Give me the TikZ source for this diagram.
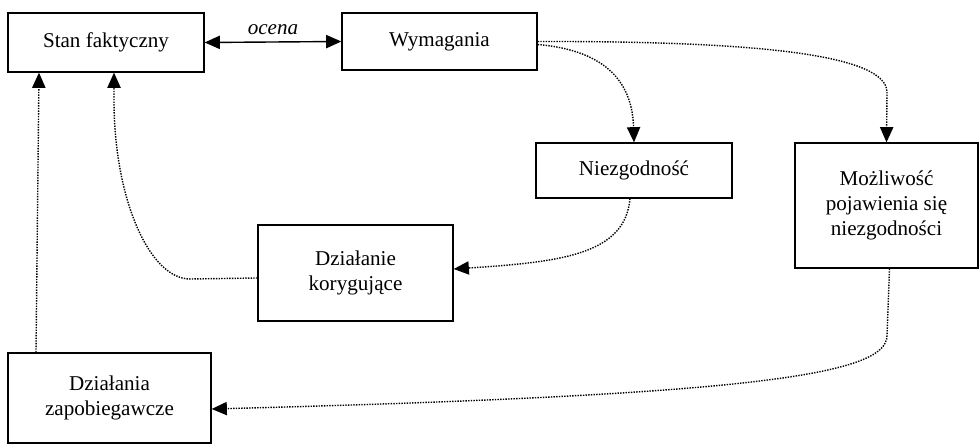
\documentclass[tikz,border=0pt]{standalone}
\usepackage{fontspec}
\setmainfont{Liberation Serif}
\usetikzlibrary{arrows.meta,calc}

\tikzset{
  blok/.style={draw, line width=0.9pt, inner sep=0pt, align=center,
    font=\fontsize{15}{18}\selectfont},
  kropki/.style={dash pattern=on 1pt off 0.9pt, line width=1pt, ->},
  ciagla/.style={line width=1pt, <->}
}

\begin{document}
\begin{tikzpicture}[x=0.025cm, y=-0.025cm, >={Triangle[length=0.38cm,width=0.33cm]}]
	\useasboundingbox (0,0) rectangle (979,444);
	
	\node[blok, minimum width=4.9cm, minimum height=1.475cm] (stan) at (106,42.5) {Stan faktyczny};
	\node[blok, minimum width=4.875cm, minimum height=1.425cm] (wym) at (439.5,41.5) {Wymagania};
	\node[blok, minimum width=4.9cm, minimum height=1.375cm] (niez) at (634,170.5) {Niezgodność};
	\node[blok, minimum width=4.575cm, minimum height=3.125cm] (mozl) at (886.5,205.5) {Możliwość\\pojawienia się\\niezgodności};
	\node[blok, minimum width=4.875cm, minimum height=2.4cm] (dzk) at (355.5,273) {Działanie\\korygujące};
	\node[blok, minimum width=5.075cm, minimum height=2.25cm] (dzz) at (109.5,398) {Działania\\zapobiegawcze};
	
	% ocena
	\draw[ciagla] (stan.east) -- (wym.east -| wym.west) node[midway, above=1pt, font=\fontsize{15}{18}\selectfont\itshape] {ocena};
	
	% z wymagan
	\draw[kropki] ($(wym.east)+(0,3)$) .. controls (590,49) and (632,70) .. (niez.north);
	\draw[kropki] (wym.east) .. controls (760,41) and (887,55) .. ($(mozl.north)+(0.5,-50)$) -- (mozl.north);
	
	% dzialania
	\draw[kropki] ($(niez.south)+(-4,0)$) .. controls (625,255) and (560,262) .. ($(dzk.east)+(0,-4)$);
	\draw[kropki] ($(mozl.south)+(3,0)$) -- ($(mozl.south)+(0.5,67)$) .. controls (887,375) and (750,395) .. ($(dzz.east)+(0,11)$);
	
	% powrot do stanu
	\draw[kropki] ($(dzk.west)+(0,5)$) -- (190,279) .. controls (150,279) and (114,200) .. (114,100) -- ($(stan.south)+(8,0)$);
	\draw[kropki] ($(dzz.north)+(-73.5,0)$) -- ($(stan.south)+(-67,0)$);
	
\end{tikzpicture}
\end{document}
